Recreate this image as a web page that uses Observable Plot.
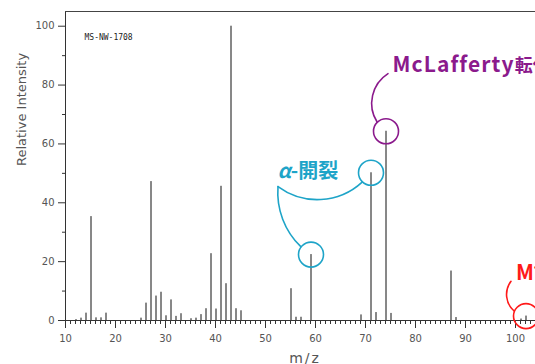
<!DOCTYPE html>
<html><head><meta charset="utf-8">
<script src="https://cdn.jsdelivr.net/npm/d3@7"></script>
<script src="https://cdn.jsdelivr.net/npm/@observablehq/plot@0.6"></script>
<style>html,body{margin:0;padding:0;background:#fff;overflow:hidden}svg{display:block}</style>
</head><body><div id="chart"></div>
<script>
// ---- data ----
const mz        = [12, 13, 14, 15, 16, 17, 18, 25, 26, 27, 28, 29, 30, 31, 32, 33, 35, 36, 37, 38, 39, 40, 41, 42, 43, 44, 45, 55, 56, 57, 59, 69, 71, 72, 74, 75, 87, 88, 101, 102];
const intensity = [0.3, 0.8, 2.5, 35.3, 0.9, 0.9, 2.5, 0.8, 5.9, 47.2, 8.3, 9.6, 1.6, 7.0, 1.4, 2.3, 0.6, 0.8, 2.0, 4.0, 22.7, 3.9, 45.6, 12.5, 100, 4.0, 3.3, 10.8, 1.1, 1.1, 22.4, 1.9, 50.2, 2.7, 64.3, 2.4, 16.8, 1.0, 0.5, 1.5];

const xLabelTicks = [10, 20, 30, 40, 50, 60, 70, 80, 90, 100];
const xMinorTicks = d3.range(10, 105);
const yLabelTicks = [0, 20, 40, 60, 80, 100];
const yMinorTicks = [10, 30, 50, 70, 90];

const spectrumId = "MS-NW-1708";
const yTitle = "Relative Intensity";
const xTitle = "m/z";

// callouts: label text and anchor (in m/z, intensity units)
const calloutText  = ["McLafferty転位", "α-開裂", "M⁺·"];
const calloutMz    = [75.4, 52.4, 100.1];
const calloutI     = [84.3, 48.3, 13.9];
// where each connector meets its label
const joinMz       = [74.5, 52.5, 99.1];
const joinI        = [83.9, 45.5, 13.3];
// circled peaks and the callout each belongs to
const circledMz    = [74, 71, 59, 102];
const circledOf    = [0, 1, 1, 2];

const calloutColor = ["#8b1a8c", "#1ea4c8", "#ff1a1a"];
const calloutSize  = [21, 20, 21];
const connectorBend = [55, 45, 30, 60];

const peaks = mz.map((m, i) => ({mz: m, I: intensity[i]}));
const peakI = m => intensity[mz.indexOf(m)];

const marks = [
  Plot.ruleX(peaks, {x: "mz", y1: 0, y2: "I", stroke: "#111", strokeWidth: 1, dx: 0.5}),
  Plot.axisY({ticks: yLabelTicks, tickSize: 7, tickPadding: 4, label: null, stroke: "#333", fill: "#555"}),
  Plot.axisY({ticks: yMinorTicks, tickSize: 3, text: null, label: null, stroke: "#333"}),
  Plot.axisX({ticks: xLabelTicks, tickSize: 8, tickPadding: 6, label: null, stroke: "#333", fill: "#555"}),
  Plot.axisX({ticks: xMinorTicks, tickSize: 4, text: null, label: null, stroke: "#333"}),
  Plot.ruleX([10], {stroke: "#333"}),
  Plot.ruleY([0], {stroke: "#333"}),
  Plot.ruleY([105], {stroke: "#444"}),
  Plot.text([spectrumId], {frameAnchor: "top-left", dx: 19, dy: 28, lineAnchor: "bottom", textAnchor: "start",
    fontSize: 8, fontFamily: "DejaVu Sans Mono", fill: "#222"}),
  Plot.text([yTitle], {frameAnchor: "left", rotate: -90, dx: -44, fontSize: 13, fill: "#555", fontFamily: "DejaVu Sans"}),
  Plot.text([xTitle], {frameAnchor: "bottom", dx: 4.5, dy: 42, lineAnchor: "bottom", fontSize: 14, fill: "#555", fontFamily: "DejaVu Sans"})
];

circledMz.forEach((m, k) => {
  const c = circledOf[k];
  const col = calloutColor[c];
  marks.push(Plot.dot([{x: m, y: peakI(m)}], {x: "x", y: "y", r: 12.5, stroke: col, strokeWidth: 1.6, fill: "none", dx: 0.5}));
  marks.push(Plot.arrow([{x1: m, y1: peakI(m), x2: joinMz[c], y2: joinI[c]}],
    {x1: "x1", y1: "y1", x2: "x2", y2: "y2", bend: connectorBend[k], headLength: 0, insetStart: 12.5,
     stroke: col, strokeWidth: 1.6}));
});
calloutText.forEach((t, c) => {
  marks.push(Plot.text([t], {x: () => calloutMz[c], y: () => calloutI[c], text: d => d, textAnchor: "start", lineAnchor: "bottom",
    fill: calloutColor[c], fontSize: calloutSize[c], fontWeight: "bold", fontFamily: "Noto Sans CJK JP"}));
});

const svg = Plot.plot({
  width: 535, height: 364,
  marginLeft: 65, marginRight: 0, marginTop: 11, marginBottom: 44,
  x: {domain: [10, 104]},
  y: {domain: [0, 105]},
  style: {fontFamily: "DejaVu Sans", fontSize: "10px", color: "#555", background: "#fff", overflow: "hidden"},
  marks
});

d3.select(svg).selectAll("text").each(function() {
  const t = this.textContent;
  const s = d3.select(this);
  if (t === "McLafferty転位") {
    s.text(null);
    s.append("tspan").attr("letter-spacing", "1.1px").text("McLafferty");
    s.append("tspan").attr("font-size", "18px").text("転位");
  } else if (t === "α-開裂") {
    s.text(null);
    s.append("tspan").attr("font-style", "italic").text("α");
    s.append("tspan").text("-開裂");
  } else if (t === "m/z") {
    s.attr("letter-spacing", "2px");
  }
});

document.getElementById("chart").appendChild(svg);
</script>
</body></html>
